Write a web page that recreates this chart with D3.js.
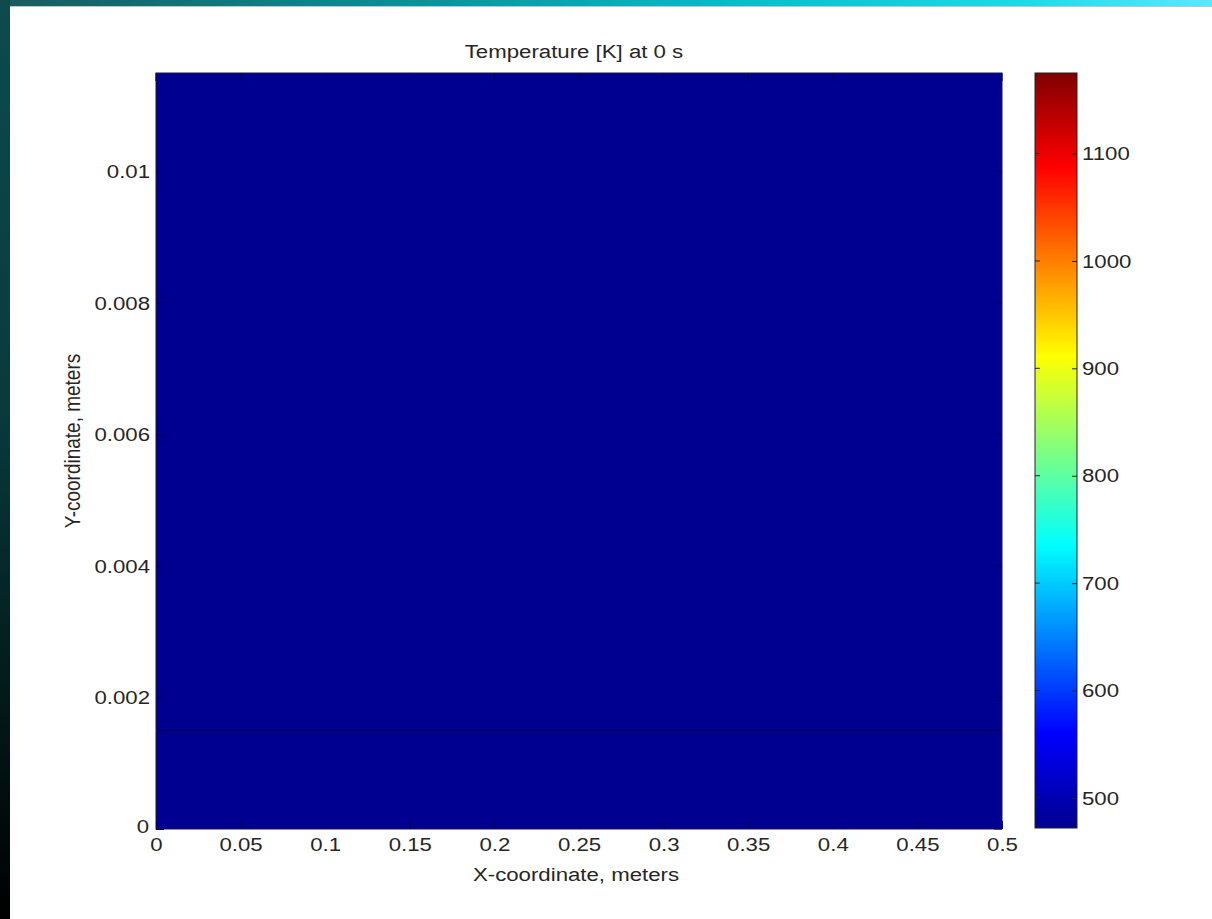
<!DOCTYPE html>
<html>
<head>
<meta charset="utf-8">
<script src="https://cdn.jsdelivr.net/npm/d3@7"></script>
<style>
  html, body { margin: 0; padding: 0; background: #fff; }
  svg { display: block; }
  text { font-family: "Liberation Sans", Arial, sans-serif; fill: #262626; }
</style>
</head>
<body>
<svg id="chart" width="1212" height="919"></svg>
<script>
// ---- data ----
const titleText = "Temperature [K] at 0 s";
const xLabel = "X-coordinate, meters";
const yLabel = "Y-coordinate, meters";
const xDomain = [0, 0.5];
const yDomain = [0, 0.0115];
const xTicks = [0, 0.05, 0.1, 0.15, 0.2, 0.25, 0.3, 0.35, 0.4, 0.45, 0.5];
const xTickLabels = ["0", "0.05", "0.1", "0.15", "0.2", "0.25", "0.3", "0.35", "0.4", "0.45", "0.5"];
const yTicks = [0, 0.002, 0.004, 0.006, 0.008, 0.01];
const yTickLabels = ["0", "0.002", "0.004", "0.006", "0.008", "0.01"];
// field: two layers (substrate / coating), uniform initial temperature
const layerX0 = [0, 0];
const layerX1 = [0.5, 0.5];
const layerY0 = [0, 0.0015];
const layerY1 = [0.0015, 0.0115];
const layerTemp = [473, 473];
const interfaceY = [0.0015];
const cbDomain = [472, 1175];
const cbTicks = [500, 600, 700, 800, 900, 1000, 1100];
const cbTickLabels = ["500", "600", "700", "800", "900", "1000", "1100"];
const jetStops = [0, 0.125, 0.375, 0.625, 0.875, 1];
const jetColors = ["#00008f", "#0000ff", "#00ffff", "#ffff00", "#ff0000", "#800000"];

// ---- layout ----
const svg = d3.select("#chart");
const W = 1212, H = 919;
const plot = { left: 156, right: 1002, top: 73, bottom: 829 };
const cb = { left: 1035, right: 1077, top: 73, bottom: 828 };
const FS = 19;       // font size
const SX = 1.17;     // horizontal stretch of the original screenshot

// background frame (presentation backdrop)
const defs = svg.append("defs");
const gTop = defs.append("linearGradient").attr("id", "gTop");
[["0%", "#1a5a5c"], ["30%", "#0a8a92"], ["60%", "#06bcc8"], ["85%", "#1edbe8"], ["100%", "#5ae8ff"]]
  .forEach(([o, c]) => gTop.append("stop").attr("offset", o).attr("stop-color", c));
const gLeft = defs.append("linearGradient").attr("id", "gLeft").attr("x1", 0).attr("y1", 0).attr("x2", 0).attr("y2", 1);
[["0%", "#0d4b4d"], ["45%", "#093a3c"], ["75%", "#031a1b"], ["100%", "#000000"]]
  .forEach(([o, c]) => gLeft.append("stop").attr("offset", o).attr("stop-color", c));

svg.append("rect").attr("x", 0).attr("y", 0).attr("width", W).attr("height", H).attr("fill", "#ffffff");
svg.append("rect").attr("x", 0).attr("y", 0).attr("width", W).attr("height", 6).attr("fill", "url(#gTop)");
svg.append("rect").attr("x", 0).attr("y", 6).attr("width", W).attr("height", 1).attr("fill", "#c4c4c4");
svg.append("rect").attr("x", 0).attr("y", 0).attr("width", 10).attr("height", H).attr("fill", "url(#gLeft)");

// scales
const x = d3.scaleLinear().domain(xDomain).range([plot.left, plot.right]);
const y = d3.scaleLinear().domain(yDomain).range([plot.bottom, plot.top]);
const cbY = d3.scaleLinear().domain(cbDomain).range([cb.bottom, cb.top]);
const jet = d3.scaleLinear()
  .domain(jetStops.map(s => cbDomain[0] + s * (cbDomain[1] - cbDomain[0])))
  .range(jetColors).interpolate(d3.interpolateRgb).clamp(true);

// field
const layers = layerTemp.map((t, i) => ({ x0: layerX0[i], x1: layerX1[i], y0: layerY0[i], y1: layerY1[i], t }));
svg.append("g").selectAll("rect").data(layers).join("rect")
  .attr("x", d => x(d.x0)).attr("y", d => y(d.y1))
  .attr("width", d => x(d.x1) - x(d.x0)).attr("height", d => y(d.y0) - y(d.y1))
  .attr("fill", d => jet(d.t));

// interface line
svg.append("g").selectAll("line").data(interfaceY).join("line")
  .attr("x1", x(xDomain[0]) + 1).attr("x2", x(xDomain[1]) - 1)
  .attr("y1", d => y(d)).attr("y2", d => y(d))
  .attr("stroke", "#000050").attr("stroke-width", 1.3);

// axes box
svg.append("rect").attr("x", plot.left).attr("y", plot.top)
  .attr("width", plot.right - plot.left).attr("height", plot.bottom - plot.top)
  .attr("fill", "none").attr("stroke", "#1a1a3a").attr("stroke-width", 1);

// x axis (ticks inside, MATLAB style)
const tickLen = 8;
const tickCol = "#000060";
const xAxis = svg.append("g").attr("transform", `translate(0,${plot.bottom})`)
  .call(d3.axisBottom(x).tickValues(xTicks).tickFormat((d, i) => xTickLabels[i]).tickSizeInner(-tickLen).tickSizeOuter(0));
xAxis.select(".domain").remove();
xAxis.selectAll(".tick line").attr("stroke", tickCol);
xAxis.selectAll(".tick text").attr("font-size", FS).attr("fill", "#262626")
  .attr("font-family", "Liberation Sans, Arial, sans-serif")
  .attr("y", 9).attr("dy", "0.71em").attr("transform", `scale(${SX},1)`);

const yAxis = svg.append("g").attr("transform", `translate(${plot.left},0)`)
  .call(d3.axisLeft(y).tickValues(yTicks).tickFormat((d, i) => yTickLabels[i]).tickSizeInner(-tickLen).tickSizeOuter(0));
yAxis.select(".domain").remove();
yAxis.selectAll(".tick line").attr("stroke", tickCol);
yAxis.selectAll(".tick text").attr("font-size", FS).attr("fill", "#262626")
  .attr("font-family", "Liberation Sans, Arial, sans-serif")
  .attr("x", -6 / SX).attr("transform", `scale(${SX},1)`);
// MATLAB nudges the origin label up
yAxis.selectAll(".tick").filter(d => d === 0).select("text").attr("x", -7 / SX).attr("dy", "0.16em");

// top/right mirrored ticks
svg.append("g").selectAll("line").data(xTicks).join("line")
  .attr("x1", d => x(d)).attr("x2", d => x(d)).attr("y1", plot.top).attr("y2", plot.top + tickLen)
  .attr("stroke", tickCol);
svg.append("g").selectAll("line").data(yTicks).join("line")
  .attr("x1", plot.right).attr("x2", plot.right - tickLen).attr("y1", d => y(d)).attr("y2", d => y(d))
  .attr("stroke", tickCol);

// labels
svg.append("text").attr("transform", `translate(574,58) scale(${SX},1)`)
  .attr("text-anchor", "middle").attr("font-size", FS).text(titleText);
svg.append("text").attr("transform", `translate(576,881) scale(${SX},1)`)
  .attr("text-anchor", "middle").attr("font-size", FS).text(xLabel);
svg.append("text").attr("transform", `translate(80,441) rotate(-90) scale(1,${SX})`)
  .attr("text-anchor", "middle").attr("font-size", FS).text(yLabel);

// colorbar
const cbGrad = defs.append("linearGradient").attr("id", "cbGrad")
  .attr("x1", 0).attr("y1", 1).attr("x2", 0).attr("y2", 0);
jetStops.forEach((s, i) => cbGrad.append("stop").attr("offset", s).attr("stop-color", jetColors[i]));
svg.append("rect").attr("x", cb.left).attr("y", cb.top)
  .attr("width", cb.right - cb.left).attr("height", cb.bottom - cb.top)
  .attr("fill", "url(#cbGrad)").attr("stroke", "#222").attr("stroke-width", 1);

const cbAxis = svg.append("g").attr("transform", `translate(${cb.right},0)`)
  .call(d3.axisRight(cbY).tickValues(cbTicks).tickFormat((d, i) => cbTickLabels[i]).tickSizeInner(-5).tickSizeOuter(0));
cbAxis.select(".domain").remove();
cbAxis.selectAll(".tick line").attr("stroke", "#222");
cbAxis.selectAll(".tick text").attr("font-size", FS).attr("fill", "#262626")
  .attr("font-family", "Liberation Sans, Arial, sans-serif")
  .attr("x", 5 / SX).attr("transform", `scale(${SX},1)`);
svg.append("g").selectAll("line").data(cbTicks).join("line")
  .attr("x1", cb.left).attr("x2", cb.left + 5).attr("y1", d => cbY(d)).attr("y2", d => cbY(d))
  .attr("stroke", "#222");
</script>
</body>
</html>
